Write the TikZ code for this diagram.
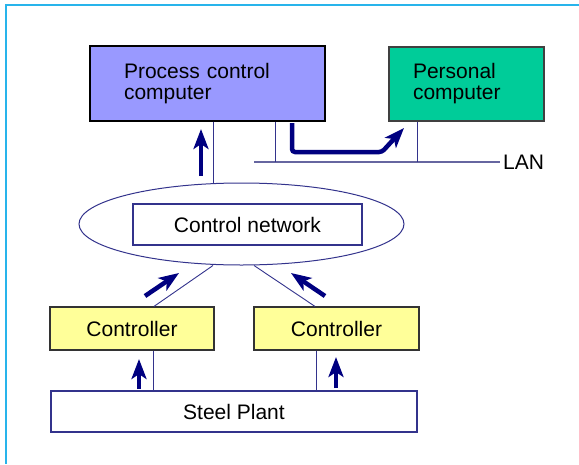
\documentclass[tikz,border=0pt]{standalone}
\usepackage{fontspec}
\setmainfont{Liberation Sans}
\usetikzlibrary{shapes.geometric, arrows.meta}
\definecolor{navy}{RGB}{0,0,128}
\definecolor{thin}{RGB}{51,51,140}
\definecolor{lanc}{RGB}{102,102,160}
\definecolor{framec}{RGB}{40,180,235}
\definecolor{pccfill}{RGB}{153,153,255}
\definecolor{pcfill}{RGB}{0,204,153}
\definecolor{ctlfill}{RGB}{255,255,153}
\tikzset{
  box/.style={draw, rectangle, inner sep=0pt, line width=1.2pt,
    font=\fontsize{21}{21}\selectfont},
  link/.style={draw=thin, line width=0.9pt},
  bigarrow/.style={draw=navy, line width=4.5pt,
    -{Stealth[length=20pt, width=15pt, inset=5pt]}},
}
\begin{document}
\begin{tikzpicture}[x=1pt, y=-1pt]
    \useasboundingbox (0,0) rectangle (579,464);
    % frame
    \draw[framec, line width=2pt] (579,5) -- (6,5) -- (6,464);

    \node[box, fill=pccfill, minimum width=235pt, minimum height=75pt,
      text width=167pt, align=left] (pcc) at (207.5,83.5)
      {Process control\\computer};
    \node[box, fill=pcfill, draw=black!75, minimum width=155pt, minimum height=74pt,
      text width=107pt, align=left] (pc) at (466.5,84)
      {Personal\\computer};

    \node[draw=thin, ellipse, line width=1pt, inner sep=0pt,
      minimum width=325pt, minimum height=82pt] (net) at (241.5,224) {};
    \node[box, draw=thin, fill=white, minimum width=229pt, minimum height=41pt]
      (cnet) at (247.5,224.5) {Control network};

    \node[box, fill=ctlfill, draw=black!80, minimum width=164pt, minimum height=43pt]
      (ctlA) at (132,328.5) {Controller};
    \node[box, fill=ctlfill, draw=black!80, minimum width=165pt, minimum height=43pt]
      (ctlB) at (336.5,328.5) {Controller};
    \node[box, draw=thin, minimum width=366pt, minimum height=41pt]
      (plant) at (234,411.5) {Steel Plant};

    % LAN
    \coordinate (lanL) at (254,162);
    \node[anchor=west, inner sep=3pt, font=\fontsize{21}{21}\selectfont]
      (lan) at (500,162) {LAN};
    \draw[lanc, line width=2pt] (lanL) -- (lan.west);
    \draw[link] ([xshift=67.5pt]pcc.south) -- ([xshift=67.5pt]pcc.south |- lanL);
    \draw[link] ([xshift=-49.5pt]pc.south) -- ([xshift=-49.5pt]pc.south |- lanL);

    % thin links
    \draw[link] ([xshift=5.5pt]pcc.south) -- ([xshift=5.5pt]pcc.south |- net.north);
    \draw[link] ([xshift=-28.5pt]net.south) -- ([xshift=22pt]ctlA.north);
    \draw[link] ([xshift=12.5pt]net.south) -- ([xshift=-21.5pt]ctlB.north);
    \draw[link] ([xshift=21pt]ctlA.south) -- ([xshift=21pt]ctlA.south |- plant.north);
    \draw[link] ([xshift=-20.5pt]ctlB.south) -- ([xshift=-20.5pt]ctlB.south |- plant.north);

    % data flow arrows
    \draw[bigarrow] (201,176) -- (201,129);
    \draw[bigarrow, rounded corners=3pt] (292,123) -- (292,152) -- (382,152) -- (404,128);
    \draw[bigarrow] (145,296) -- (179,273);
    \draw[bigarrow] (325,296) -- (291,273);
    \draw[bigarrow] (139,389) -- (139,359);
    \draw[bigarrow] (336,388) -- (336,357);
\end{tikzpicture}
\end{document}
